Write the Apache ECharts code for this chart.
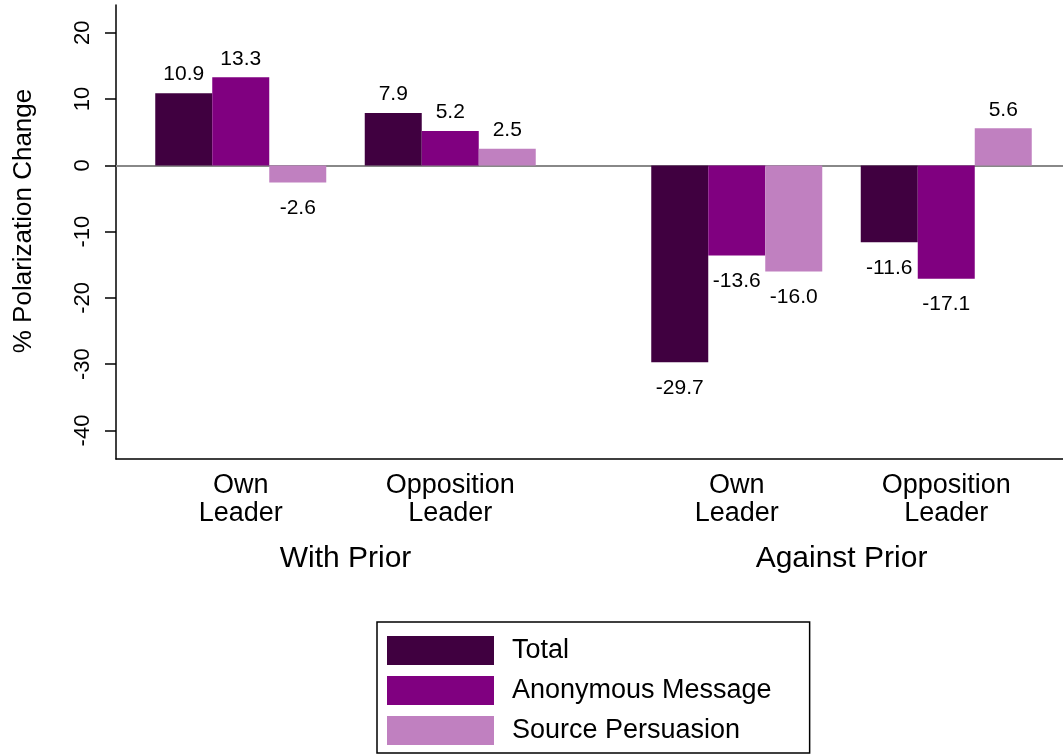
<!DOCTYPE html>
<html>
<head>
<meta charset="utf-8">
<script src="https://cdn.jsdelivr.net/npm/echarts@6/dist/echarts.min.js"></script>
<style>
  html, body { margin: 0; padding: 0; background: #fff; }
  #chart { width: 1063px; height: 754px; }
</style>
</head>
<body>
<div id="chart"></div>
<script>
// data
var leaders = ['Own\nLeader', 'Opposition\nLeader'];
var groups = ['With Prior', 'Against Prior'];
var seriesNames = ['Total', 'Anonymous Message', 'Source Persuasion'];
var total = [10.9, 7.9, -29.7, -11.6];
var anonymous = [13.3, 5.2, -13.6, -17.1];
var source = [-2.6, 2.5, -16.0, 5.6];
var yTicks = [-40, -30, -20, -10, 0, 10, 20];

var colors = ['#400040', '#800080', '#c080c0'];
var font = 'Liberation Sans, Arial, Helvetica, sans-serif';
var yMin = -44.3, yMax = 24.2;

var chart = echarts.init(document.getElementById('chart'));

function items(values) {
  return values.map(function (v) {
    return {
      value: v,
      label: v < 0 ? { position: 'bottom', distance: 15 } : { position: 'top', distance: 8 }
    }
  })
}

var allValues = [total, anonymous, source];
var series = [];
groups.forEach(function (g, gi) {
  allValues.forEach(function (vals, si) {
    series.push({
      name: seriesNames[si],
      type: 'bar',
      xAxisIndex: 2 + gi * 2,
      yAxisIndex: 1 + gi,
      barWidth: 57,
      barGap: 0,
      itemStyle: { color: colors[si] },
      label: {
        show: true,
        fontSize: 21,
        fontFamily: font,
        color: '#000',
        formatter: function (p) { return p.value.toFixed(1) }
      },
      data: items(vals.slice(gi * 2, gi * 2 + 2))
    })
  })
});

var hiddenY = { type: 'value', min: yMin, max: yMax, show: false };

function catAxis(gridIndex, data, margin, size) {
  return {
    type: 'category',
    gridIndex: gridIndex,
    position: 'bottom',
    data: data,
    axisLine: { show: false },
    axisTick: { show: false },
    axisLabel: {
      margin: margin,
      fontSize: size,
      lineHeight: size + 1,
      fontFamily: font,
      color: '#000',
      interval: 0
    }
  }
}

chart.setOption({
  animation: false,
  textStyle: { fontFamily: font },
  grid: [
    { left: 116, right: 0, top: 5, bottom: 295 },
    { left: 136, width: 419, top: 5, bottom: 295 },
    { left: 632, width: 419, top: 5, bottom: 295 }
  ],
  legend: {
    left: 377,
    top: 622,
    orient: 'vertical',
    data: seriesNames,
    icon: 'rect',
    itemWidth: 107,
    itemHeight: 29,
    itemGap: 11,
    borderColor: '#000',
    borderWidth: 1.5,
    borderRadius: 0,
    padding: [14, 38, 8, 10],
    selectedMode: false,
    textStyle: { fontSize: 27, fontFamily: font, color: '#000', padding: [0, 0, 0, 13] }
  },
  xAxis: [
    {
      type: 'category',
      gridIndex: 0,
      data: [''],
      axisLine: { onZero: true, lineStyle: { color: '#888', width: 2 } },
      axisTick: { show: false },
      axisLabel: { show: false }
    },
    {
      type: 'category',
      gridIndex: 0,
      position: 'bottom',
      data: [''],
      axisLine: { onZero: false, lineStyle: { color: '#000', width: 1.5 } },
      axisTick: { show: false },
      axisLabel: { show: false }
    },
    catAxis(1, leaders, 13, 27),
    catAxis(1, [groups[0]], 84, 30),
    catAxis(2, leaders, 13, 27),
    catAxis(2, [groups[1]], 84, 30)
  ],
  yAxis: [
    {
      type: 'value',
      gridIndex: 0,
      min: yMin,
      max: yMax,
      name: '% Polarization Change',
      nameLocation: 'middle',
      nameGap: 79,
      nameTextStyle: { fontSize: 26, fontFamily: font, color: '#000', padding: [0, 0, 0, 22] },
      axisLine: { show: true, lineStyle: { color: '#000', width: 1.5 } },
      axisTick: { show: true, length: 11, customValues: yTicks, lineStyle: { color: '#000', width: 1.5 } },
      axisLabel: { rotate: 90, margin: 22, fontSize: 22, fontFamily: font, color: '#000', customValues: yTicks },
      splitLine: { show: false }
    },
    Object.assign({ gridIndex: 1 }, hiddenY),
    Object.assign({ gridIndex: 2 }, hiddenY)
  ],
  series: series
});
</script>
</body>
</html>
